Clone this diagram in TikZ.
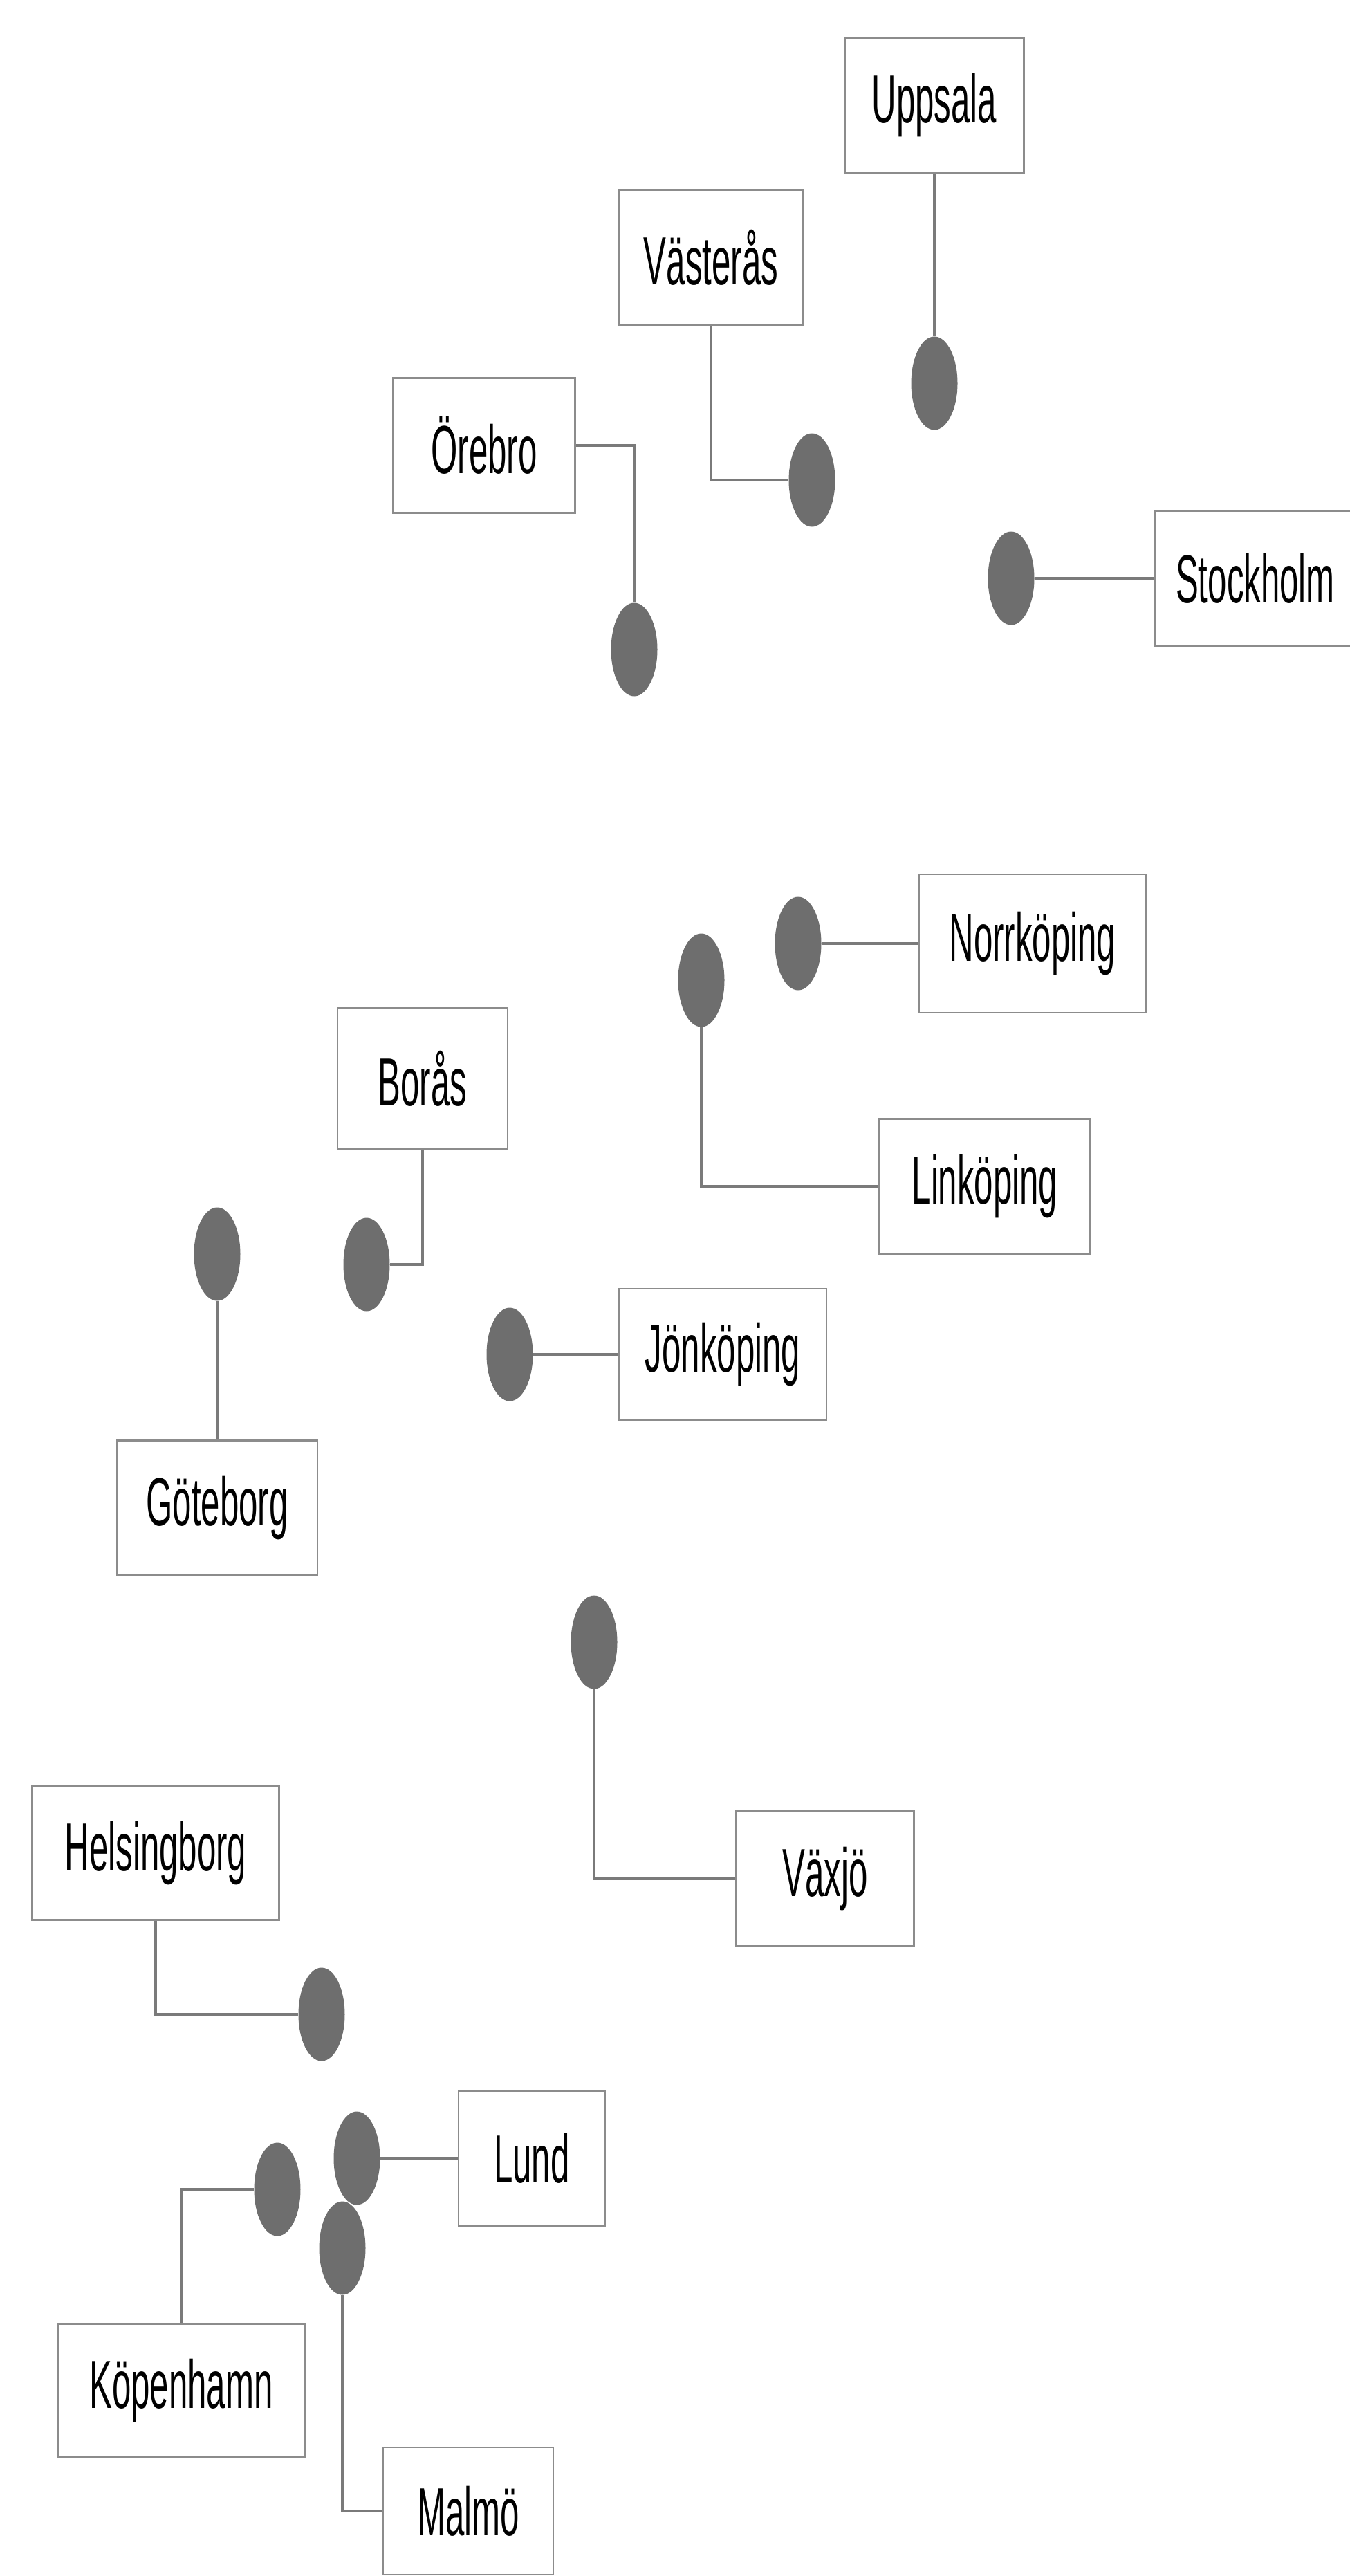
\documentclass[tikz,border=0pt]{standalone}
\usepackage{fontspec}
\usepackage{tikz}
\usetikzlibrary{positioning, shapes.geometric, calc}
\newfontfamily\cityfont[FakeStretch=0.5]{Liberation Sans}
\definecolor{mapgray}{HTML}{8C8C8C}
\definecolor{mapdark}{HTML}{6E6E6E}
\definecolor{linkgray}{HTML}{7A7A7A}

\begin{document}
\begin{tikzpicture}[
      city/.style={draw=mapgray, minimum width=#1, minimum height=1.95cm, inner sep=0pt, font=\cityfont\fontsize{28}{30}\selectfont, line width=0.6pt},
      hub/.style={ellipse, fill=mapdark, minimum width=0.67cm, minimum height=1.35cm, inner sep=0pt},
      link/.style={line width=0.9pt, linkgray}
  ]
    \useasboundingbox (0,0) rectangle (19.51,-37.24);

    \node[city=2.59cm] (upp) at (13.51,-1.52) {Uppsala};
    \node[city=2.66cm] (vas) at (10.28,-3.72) {Västerås};
    \node[city=2.63cm] (ore) at (7.00,-6.44) {Örebro};
    \node[city=2.90cm] (sto) at (18.15,-8.36) {Stockholm};
    \node[city=3.28cm, minimum height=2.0cm] (nor) at (14.93,-13.64) {Norrköping};
    \node[city=3.05cm] (lin) at (14.24,-17.15) {Linköping};
    \node[city=2.46cm, minimum height=2.03cm] (bor) at (6.11,-15.59) {Borås};
    \node[city=2.90cm] (got) at (3.14,-21.80) {Göteborg};
    \node[city=3.00cm, minimum height=1.90cm] (jon) at (10.45,-19.58) {Jönköping};
    \node[city=2.57cm] (vax) at (11.93,-27.16) {Växjö};
    \node[city=3.57cm, minimum height=1.93cm] (hel) at (2.25,-26.79) {Helsingborg};
    \node[city=2.12cm] (lun) at (7.69,-31.20) {Lund};
    \node[city=3.57cm, minimum height=1.93cm] (kop) at (2.62,-34.56) {Köpenhamn};
    \node[city=2.46cm, minimum height=1.84cm] (mal) at (6.77,-36.30) {Malmö};

    \node[hub] (hupp) at (13.51,-5.54) {};
    \node[hub] (hvas) at (11.74,-6.94) {};
    \node[hub] (hore) at (9.17,-9.39) {};
    \node[hub] (hsto) at (14.62,-8.36) {};
    \node[hub] (hnor) at (11.54,-13.64) {};
    \node[hub] (hlin) at (10.14,-14.17) {};
    \node[hub] (hbor) at (5.30,-18.28) {};
    \node[hub] (hgot) at (3.14,-18.13) {};
    \node[hub] (hjon) at (7.37,-19.58) {};
    \node[hub] (hvax) at (8.59,-23.74) {};
    \node[hub] (hhel) at (4.65,-29.12) {};
    \node[hub] (hlun) at (5.16,-31.20) {};
    \node[hub] (hkop) at (4.01,-31.65) {};
    \node[hub] (hmal) at (4.95,-32.50) {};

    \draw[link] (upp) -- (hupp);
    \draw[link] (vas.south) |- (hvas.west);
    \draw[link] (ore.east) -| (hore.north);
    \draw[link] (hsto) -- (sto);
    \draw[link] (hnor) -- (nor);
    \draw[link] (hlin.south) |- (lin.west);
    \draw[link] (bor.south) |- (hbor.east);
    \draw[link] (hgot) -- (got);
    \draw[link] (hjon) -- (jon);
    \draw[link] (hvax.south) |- (vax.west);
    \draw[link] (hel.south) |- (hhel.west);
    \draw[link] (hlun) -- (lun);
    \draw[link] (kop.north) |- (hkop.west);
    \draw[link] (hmal.south) |- (mal.west);
  \end{tikzpicture}
\end{document}
